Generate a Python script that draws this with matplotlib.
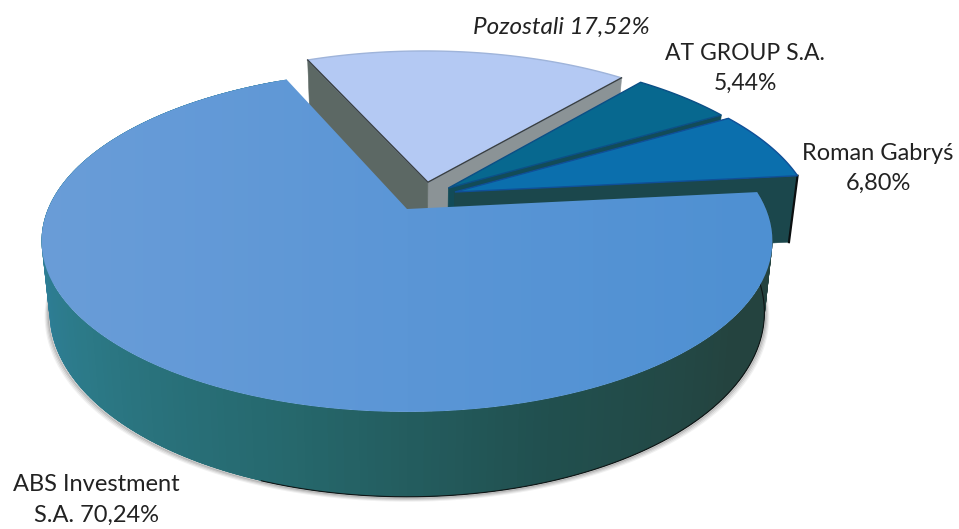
import numpy as np
import matplotlib
matplotlib.use('Agg')
import matplotlib.pyplot as plt
from matplotlib.colors import LinearSegmentedColormap
from matplotlib.patches import Polygon

# shares, clockwise from the right edge of the big slice
categories = ['ABS Investment\nS.A. 70,24%', 'Pozostali 17,52%', 'AT GROUP S.A.\n5,44%', 'Roman Gabryś\n6,80%']
shares = [70.24, 17.52, 5.44, 6.80]

plt.rcParams['font.family'] = ['Lato', 'DejaVu Sans']

# perspective of the pie plane, in pixels of the picture
CX, CY = 407, 209
SCALE_X = 359
A, C = -125.9, 0.187
DEPTH = 69
TAPER = 0.978
START = 6.0


def project(u, v, low=False):
    w = 1 + C * v
    x = SCALE_X * u / w
    y = CY + (A * v - C * CY * v) / w
    if low:
        return CX + x * TAPER, y + DEPTH / w
    return CX + x, y


def arc(a0, a1, off=(0, 0), n=120):
    t = np.radians(np.linspace(a0, a1, n))
    return np.cos(t) + off[0], np.sin(t) + off[1]


def quad(ax, u, v, color, z=1, lw=0.4):
    x0, y0 = project(u, v)
    x1, y1 = project(u, v, low=True)
    pts = np.column_stack([np.r_[x0, x1[::-1]], np.r_[y0, y1[::-1]]])
    ax.add_patch(Polygon(pts, closed=True, fc=color, ec=color if lw else 'none', lw=lw, zorder=z))


def top_face(ax, a0, a1, off, color, edge, z):
    u, v = arc(a0, a1, off)
    x, y = project(np.r_[off[0], u], np.r_[off[1], v])
    p = Polygon(np.column_stack([x, y]), closed=True, fc=color, ec=edge, lw=1.0, zorder=z)
    ax.add_patch(p)
    return p


def wall(ax, a, off, color, z):
    t = np.radians(a)
    u = np.array([off[0], np.cos(t) + off[0]])
    v = np.array([off[1], np.sin(t) + off[1]])
    quad(ax, u, v, color, z)


fig = plt.figure(figsize=(9.59, 5.29), dpi=100)
ax = fig.add_axes([0, 0, 1, 1])
ax.set_xlim(0, 959)
ax.set_ylim(529, 0)
ax.axis('off')

# slice limits from the shares
sweep = np.array(shares) * 3.6
main_end = START - sweep[0] + 360
poz_start = main_end - sweep[1]
at_start = poz_start - sweep[2]

# Pozostali
off = (0.06, 0.167)
wall(ax, poz_start, off, '#8b9396', 2)
wall(ax, main_end, off, '#5c6864', 2)
top_face(ax, poz_start, main_end, off, '#b4c9f3', '#9fb4da', 3)
u = np.array([np.cos(np.radians(poz_start)) + off[0], off[0], np.cos(np.radians(main_end)) + off[0]])
v = np.array([np.sin(np.radians(poz_start)) + off[1], off[1], np.sin(np.radians(main_end)) + off[1]])
x, y = project(u, v)
ax.plot(x, y, color='#3a3f3f', lw=1.0, zorder=3.5)

# AT GROUP
off = (0.118, 0.13)
wall(ax, at_start, off, '#124b58', 4)
top_face(ax, at_start, poz_start, off, '#07688f', '#0b4f86', 5)

# Roman Gabrys
off = (0.136, 0.105)
wall(ax, START, off, '#1b474c', 6)
wall(ax, at_start, off, '#1b474c', 6)
top_face(ax, START, at_start, off, '#0b6fad', '#0f4f98', 7)
x, y = project(np.array([np.cos(np.radians(START)) + off[0]] * 2),
               np.array([np.sin(np.radians(START)) + off[1]] * 2))
x1, y1 = project(np.array([np.cos(np.radians(START)) + off[0]] * 2),
                 np.array([np.sin(np.radians(START)) + off[1]] * 2), low=True)
ax.plot([x[0], x1[0]], [y[0], y1[0]], color='#0b0f10', lw=1.6, zorder=6.5)

# ABS Investment, rim first, each piece runs on under the next one
rim = LinearSegmentedColormap.from_list('rim', ['#2f80a0', '#2c7a88', '#26696e', '#21504f', '#24433f', '#24433f'])
edges = np.linspace(main_end - 360, START, 241)
for i in range(len(edges) - 1):
    a0 = edges[i]
    frac = np.clip((a0 + 180) / 180, 0, 1)
    u, v = arc(a0, min(a0 + 4, START), n=6)
    quad(ax, u, v, rim(frac), 8 + i * 0.001, lw=0)

# soft shadow and dark line below the rim
u, v = arc(5, -195, n=300)
x, y = project(u, v, low=True)
for grow, alpha in [(4.0, 0.10), (3.0, 0.16), (2.0, 0.28), (1.0, 0.4)]:
    ax.plot(CX + (x - CX) * (1 + grow / 360), y + grow, color='#777777', lw=1.4, alpha=alpha, zorder=7.5)
u, v = arc(0, -110, n=150)
x, y = project(u, v, low=True)
ax.plot(x, y, color='#101515', lw=0.8, zorder=8.5)

face = top_face(ax, main_end, START + 360, (0, 0), 'none', 'none', 9)
blue = LinearSegmentedColormap.from_list('face', ['#6a9dd8', '#5b96d6', '#4e90d2'])
grad = np.linspace(0, 1, 256).reshape(1, -1)
im = ax.imshow(grad, cmap=blue, extent=[35, 780, 529, 0], aspect='auto', zorder=9)
im.set_clip_path(face)
ax.set_xlim(0, 959)
ax.set_ylim(529, 0)

# labels
ax.text(96, 500, categories[0], ha='center', va='center', fontsize=17, color='#222222', linespacing=1.55, zorder=12)
ax.text(561, 27, categories[1], ha='center', va='center', fontsize=17.5, style='italic', color='#222222', zorder=12)
ax.text(745, 68.5, categories[2], ha='center', va='center', fontsize=16.5, color='#222222', linespacing=1.55, zorder=12)
ax.text(878, 168.5, categories[3], ha='center', va='center', fontsize=17, color='#222222', linespacing=1.55, zorder=12)

plt.savefig('out.png', dpi=100)
plt.close()
